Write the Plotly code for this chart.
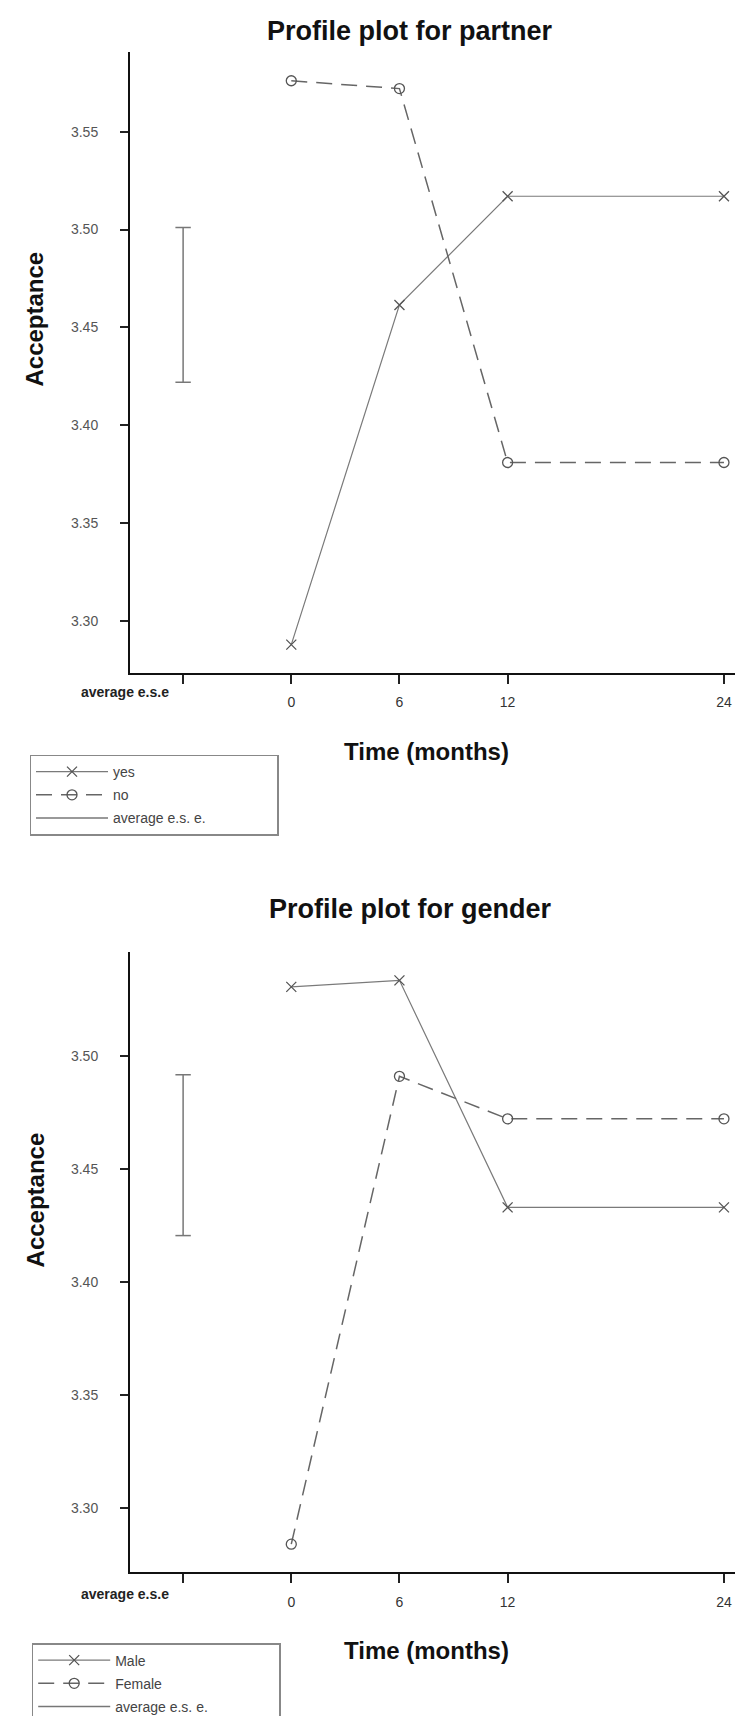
import plotly.graph_objects as go

W, H = 743, 1716

# ---------------- data ----------------
months = [0, 6, 12, 24]
ese_x = -6
xtick_vals = [-6, 0, 6, 12, 24]
xtick_text = ["", "0", "6", "12", "24"]

partner_yes = [3.288, 3.4615, 3.517, 3.517]
partner_no = [3.576, 3.572, 3.381, 3.381]
partner_ese = [3.422, 3.501]

gender_male = [3.5308, 3.5337, 3.4332, 3.4332]
gender_female = [3.2841, 3.4912, 3.4724, 3.4724]
gender_ese = [3.4207, 3.4919]

top_yticks = [3.30, 3.35, 3.40, 3.45, 3.50, 3.55]
bottom_yticks = [3.30, 3.35, 3.40, 3.45, 3.50]

top_labels = ["yes", "no", "average e.s. e."]
bottom_labels = ["Male", "Female", "average e.s. e."]

# ---------------- style ----------------
FONT = "Liberation Sans, Arial, Helvetica, sans-serif"
LINE_C = "#7a7a7a"
MARK_C = "#555555"
DASH_C = "#666666"
ESE_C = "#777777"
PAD = "\u00a0" * 17   # widens the legend box to the reference width


def py(px):
    return 1 - px / H


def add_panel(fig, xa, ya, leg, s1, s2, ese, labels, grp):
    fig.add_trace(go.Scatter(
        x=months, y=s1, mode="lines+markers", name=labels[0],
        line=dict(color=LINE_C, width=1.2),
        marker=dict(symbol="x-thin", size=10, color=MARK_C,
                    line=dict(width=1.3, color=MARK_C)),
        xaxis=xa, yaxis=ya, legend=leg, legendgroup=grp + "1"))
    fig.add_trace(go.Scatter(
        x=months, y=s2, mode="lines+markers", name=labels[1],
        line=dict(color=DASH_C, width=1.5, dash="16px,9px"),
        marker=dict(symbol="circle-open", size=10, color=MARK_C,
                    line=dict(width=1.3, color=MARK_C)),
        xaxis=xa, yaxis=ya, legend=leg, legendgroup=grp + "2"))
    fig.add_trace(go.Scatter(
        x=[ese_x, ese_x], y=ese, mode="lines", name=labels[2] + PAD,
        line=dict(color=ESE_C, width=1.5),
        xaxis=xa, yaxis=ya, legend=leg, legendgroup=grp + "3"))
    fig.add_trace(go.Scatter(
        x=[ese_x, ese_x], y=ese, mode="markers", showlegend=False,
        marker=dict(symbol="line-ew", size=11, color=ESE_C,
                    line=dict(width=1.5, color=ESE_C)),
        xaxis=xa, yaxis=ya, hoverinfo="skip"))


fig = go.Figure()
add_panel(fig, "x", "y", "legend", partner_yes, partner_no, partner_ese,
          top_labels, "p")
add_panel(fig, "x2", "y2", "legend2", gender_male, gender_female, gender_ese,
          bottom_labels, "g")

x_range = [-8.946, 25.5]
xdom = [122 / W, 1]

xcommon = dict(
    range=x_range, domain=xdom, showline=True, linecolor="#111", linewidth=2,
    ticks="outside", ticklen=9, tickwidth=2, tickcolor="#222",
    tickvals=xtick_vals, ticktext=xtick_text, showgrid=False, zeroline=False,
    tickfont=dict(family=FONT, size=14, color="#333"), ticklabelstandoff=7,
    automargin=False, fixedrange=True)
ycommon = dict(
    showline=True, linecolor="#111", linewidth=2, ticks="outside", ticklen=8,
    tickwidth=2, tickcolor="#222", tickformat=".2f", showgrid=False,
    zeroline=False, tickfont=dict(family=FONT, size=14, color="#555"),
    ticklabelstandoff=19, automargin=False, fixedrange=True)

legcommon = dict(
    xanchor="left", yanchor="top", bordercolor="#888", borderwidth=1.5,
    bgcolor="white", font=dict(family=FONT, size=14, color="#444"),
    itemwidth=72, tracegroupgap=2, traceorder="grouped")

fig.update_layout(
    width=W, height=H, margin=dict(l=0, r=0, t=0, b=0),
    paper_bgcolor="white", plot_bgcolor="white",
    font=dict(family=FONT, color="#222"),
    xaxis=dict(anchor="y", **xcommon),
    yaxis=dict(anchor="x", domain=[py(667.7), py(44)],
               range=[3.2737, 3.5908], tickvals=top_yticks, **ycommon),
    xaxis2=dict(anchor="y2", **xcommon),
    yaxis2=dict(anchor="x2", domain=[py(1571.7), py(948.3)],
                range=[3.2716, 3.5463], tickvals=bottom_yticks, **ycommon),
    legend=dict(x=21.5 / W, y=py(750), **legcommon),
    legend2=dict(x=23.7 / W, y=py(1642.7), **legcommon),
    showlegend=True,
)

ann = []
for title, ty, acc_y, time_y, avg_y, xr in [
        ("Profile plot for partner", 23, 313, 746.7, 687, "x"),
        ("Profile plot for gender", 905, 1198, 1650, 1593, "x2")]:
    ann.append(dict(text="<b>%s</b>" % title, xref="paper", yref="paper",
                    x=402 / W, y=py(ty), xanchor="center", yanchor="middle",
                    showarrow=False, font=dict(family=FONT, size=27, color="#111")))
    ann.append(dict(text="<b>Acceptance</b>", xref="paper", yref="paper",
                    x=27 / W, y=py(acc_y), xanchor="center", yanchor="middle",
                    textangle=-90, showarrow=False,
                    font=dict(family=FONT, size=24, color="#111")))
    ann.append(dict(text="<b>Time (months)</b>", xref="paper", yref="paper",
                    x=418 / W, y=py(time_y), xanchor="center", yanchor="middle",
                    showarrow=False, font=dict(family=FONT, size=24, color="#111")))
    ann.append(dict(text="<b>average e.s.e</b>", xref=xr, yref="paper",
                    x=ese_x, y=py(avg_y), xanchor="right", yanchor="middle",
                    xshift=-12, showarrow=False,
                    font=dict(family=FONT, size=14, color="#222")))
fig.update_layout(annotations=ann)

fig.write_html("out.html")
